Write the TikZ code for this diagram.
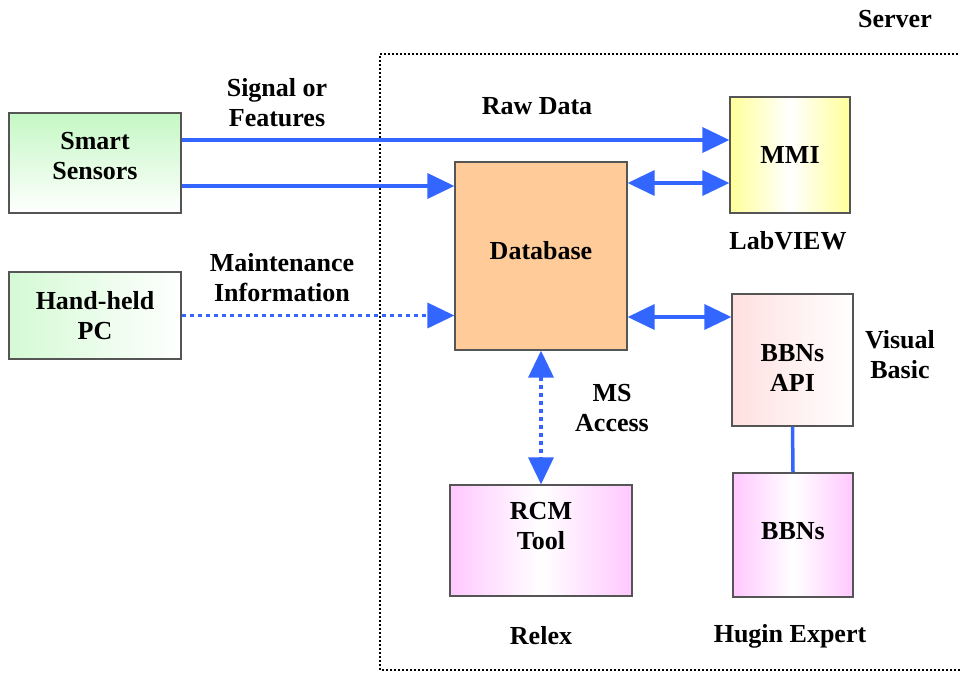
\documentclass[tikz,border=0pt]{standalone}
\usepackage{fontspec}
\setmainfont{Liberation Serif}
\usetikzlibrary{arrows.meta}
\definecolor{flowblue}{HTML}{3366FF}
\definecolor{dbfill}{HTML}{FFCC99}
\definecolor{greenA}{HTML}{C4F8C4}
\definecolor{greenB}{HTML}{D4FAD4}
\definecolor{yellowA}{HTML}{FFFF99}
\definecolor{pinkA}{HTML}{FFE0E0}
\definecolor{magA}{HTML}{FFC8FF}
\definecolor{edge}{HTML}{555555}
\tikzset{
  txt/.style={font=\bfseries\fontsize{26pt}{30pt}\selectfont, align=center, inner sep=0pt},
  box/.style={draw=edge, line width=1.2pt, inner sep=0pt},
  flow/.style={draw=flowblue, line width=3.5pt},
  tip/.style={-{Triangle[length=27pt,width=25pt]}},
  dtip/.style={{Triangle[length=27pt,width=25pt]}-{Triangle[length=27pt,width=25pt]}},
  dots/.style={dash pattern=on 4pt off 4pt},
  serverline/.style={draw=black, line width=1.8pt, dash pattern=on 1.8pt off 2.2pt}
}
\begin{document}
\begin{tikzpicture}[x=1pt,y=-1pt]
\useasboundingbox (0,0) rectangle (960,673);
% server boundary
\draw[serverline] (962,54) -- (380,54) -- (380,670) -- (962,670);
\node[txt] (server) at (895,19) {Server};
% boxes
\node[box, minimum width=172pt, minimum height=100pt, top color=greenA, bottom color=white,
  label={[txt,yshift=7pt]center:Smart\\Sensors}] (ss) at (95,163) {};
\node[box, minimum width=172pt, minimum height=87pt, left color=greenB, right color=white,
  label={[txt]center:Hand-held\\PC}] (hh) at (95,315.5) {};
\node[box, fill=dbfill, minimum width=172pt, minimum height=188pt,
  label={[txt,yshift=5pt]center:Database}] (db) at (541,256) {};
\node[box, minimum width=120pt, minimum height=116pt, left color=yellowA, right color=yellowA, middle color=white,
  label={[txt]center:MMI}] (mmi) at (790,155) {};
\node[box, minimum width=121pt, minimum height=132pt, left color=pinkA, right color=white,
  label={[txt,yshift=-7.5pt]center:BBNs\\API}] (api) at (792.5,360) {};
\node[box, minimum width=120pt, minimum height=124pt, left color=magA, right color=magA, middle color=white,
  label={[txt,yshift=4pt]center:BBNs}] (bbn) at (793,535) {};
\node[box, minimum width=182pt, minimum height=111pt, left color=magA, right color=magA, middle color=white,
  label={[txt,yshift=14pt]center:RCM\\Tool}] (rcm) at (541,540.5) {};
% connectors
\draw[flow, tip] ([yshift=23pt]ss.east) coordinate (a1) -- (a1 -| mmi.west);
\draw[flow, tip] ([yshift=-23pt]ss.east) coordinate (a2) -- (a2 -| db.west);
\draw[flow, dots, tip] (hh.east) -- (hh.east -| db.west);
\draw[flow, dtip] ([yshift=-28pt]mmi.west) coordinate (a3) -- (a3 -| db.east);
\draw[flow, dtip] ([yshift=43pt]api.west) coordinate (a4) -- (a4 -| db.east);
\draw[flow, dots, dtip] (db.south) -- (rcm.north);
\draw[flow] (api.south) -- (bbn.north);
% labels
\node[txt] (lsig) at (277,103) {Signal or\\Features};
\node[txt] (lraw) at (537,106) {Raw Data};
\node[txt] (lmaint) at (282,278) {Maintenance\\Information};
\node[txt] (lms) at (612,408) {MS\\Access};
\node[txt] (llab) at (788,241) {LabVIEW};
\node[txt] (lvb) at (900,355) {Visual\\Basic};
\node[txt] (lrelex) at (541,636) {Relex};
\node[txt] (lhugin) at (790,636) {Hugin Expert};
\end{tikzpicture}
\end{document}
